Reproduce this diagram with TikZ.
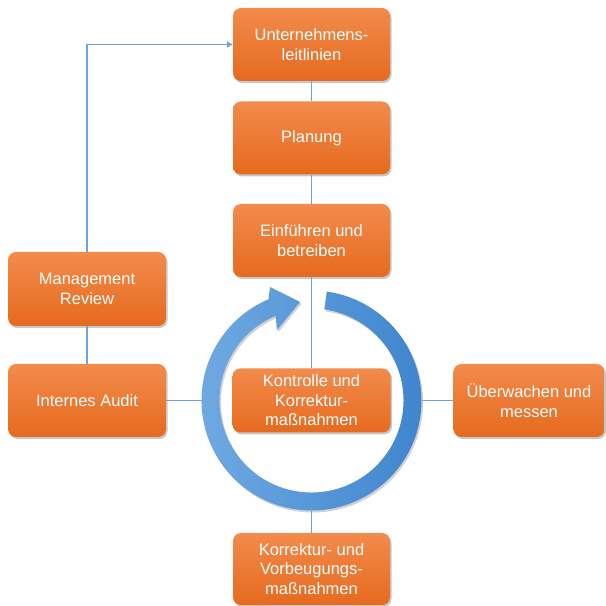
\documentclass[tikz,border=0pt]{standalone}
\usepackage{fontspec}
\setmainfont{Liberation Sans}
\usetikzlibrary{shadows,arrows.meta,calc}
\definecolor{boxtop}{RGB}{242,139,76}
\definecolor{boxbot}{RGB}{230,106,30}
\definecolor{linec}{RGB}{110,164,222}
\definecolor{ringL}{RGB}{112,170,226}
\definecolor{ringR}{RGB}{62,132,205}
\tikzset{
  obox/.style={rounded corners=8pt, minimum width=157pt, minimum height=73pt,
    align=center, text=white, inner sep=2pt,
    font=\fontsize{16.5}{19.5}\selectfont,
    top color=boxtop, bottom color=boxbot, draw=none,
    drop shadow={shadow xshift=1.5pt, shadow yshift=-2pt, opacity=0.22, fill=black}},
  conn/.style={draw=linec, line width=1.4pt},
}
\begin{document}
\begin{tikzpicture}[x=1pt,y=1pt]
\useasboundingbox (0,0) rectangle (606,606);
% nodes
\node[obox] (u) at (311.5,561.5) {Unternehmens-\\leitlinien};
\node[obox] (pl) at (311.5,468) {Planung};
\node[obox] (ef) at (311.5,365.5) {Einführen und\\betreiben};
\node[obox, minimum height=64pt, minimum width=158pt] (kk) at (311.5,205.5) {Kontrolle und\\Korrektur-\\maßnahmen};
\node[obox, minimum height=72pt] (kv) at (311.5,37) {Korrektur- und\\Vorbeugungs-\\maßnahmen};
\node[obox, minimum height=74pt, minimum width=158pt] (mr) at (87,317) {Management\\Review};
\node[obox, minimum width=158pt] (ia) at (87,205.5) {Internes Audit};
\node[obox, minimum width=151pt] (uw) at (529,205.5) {Überwachen und\\messen};
% ring
\coordinate (rc) at (311.5,205.5);
\path[left color=ringL, right color=ringR,
  drop shadow={shadow xshift=1.5pt, shadow yshift=-2pt, opacity=0.18, fill=black}]
  ($(rc)+(82:110)$) arc[start angle=82, end angle=-247, radius=110]
  -- (270,319) -- (300,304) -- (277,276)
  -- ($(rc)+(-247:92)$) arc[start angle=-247, end angle=82, radius=92] -- cycle;
\coordinate (ringW) at (201.5,205.5);
\coordinate (ringE) at (421.5,205.5);
\coordinate (ringS) at (311.5,98);
% connectors
\draw[conn] (u) -- (pl);
\draw[conn] (pl) -- (ef);
\draw[conn] (ef) -- (kk);
\draw[conn] (ringS) -- (kv);
\draw[conn] (ia) -- (ringW);
\draw[conn] (ringE) -- (uw);
\draw[conn] (mr) -- (ia);
\draw[conn, -{Triangle[length=6pt,width=6pt]}] (mr.north) |- (u.west);
\end{tikzpicture}
\end{document}
